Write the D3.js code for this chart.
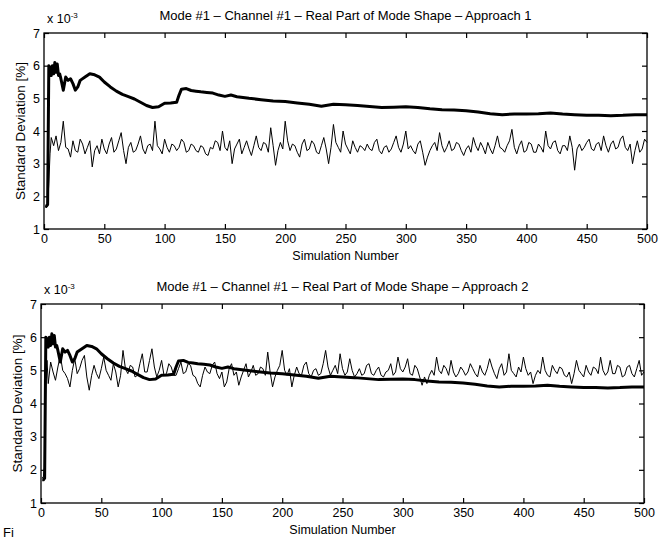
<!DOCTYPE html>
<html>
<head>
<meta charset="utf-8">
<script src="https://cdn.jsdelivr.net/npm/d3@7"></script>
<style>
  body { margin: 0; background: #fff; }
  svg { display: block; }
  .tick text { font-family: "Liberation Sans", Arial, sans-serif; font-size: 12.5px; fill: #000; }
  .tick line { stroke: #000; stroke-width: 1.2; }
  .domain { stroke: none; }
  .lbl { font-family: "Liberation Sans", Arial, sans-serif; font-size: 12.5px; fill: #000; }
</style>
</head>
<body>
<div id="chart"></div>
<script>
  var svgWidth = 671;
  var svgHeight = 542;

  // tick values
  var xTicks = [0, 50, 100, 150, 200, 250, 300, 350, 400, 450, 500];
  var yTicks = [1, 2, 3, 4, 5, 6, 7];

  // first few simulations (transient), then every 2nd simulation from 8 to 500
  var startSims = [1, 2, 3, 4, 5, 6];
  var noisySims = d3.range(8, 501, 2);

  // Approach 1 - thin noisy line (x 10^-3)
  var approach1Start = [1.70, 1.65, 1.75, 2.40, 3.30, 3.80];
  var approach1Noisy = [
    3.55, 3.85, 3.40, 3.65, 4.30, 3.50, 3.45, 3.20, 3.70, 3.40, 3.35, 3.75, 3.60, 3.30, 3.50, 3.70, 2.90, 3.40, 3.55, 3.30,
    3.75, 3.45, 3.30, 3.60, 3.80, 3.35, 3.45, 3.70, 3.95, 3.40, 3.00, 3.50, 3.65, 3.35, 3.40, 3.60, 3.85, 3.45, 3.30, 3.55,
    3.60, 3.40, 4.30, 3.55, 3.45, 3.30, 3.75, 3.50, 3.35, 3.60, 3.55, 3.40, 3.50, 3.75, 3.65, 3.35, 3.40, 3.60, 3.55, 3.40,
    3.35, 3.55, 3.50, 3.30, 3.25, 3.50, 3.45, 3.70, 3.65, 3.40, 4.00, 3.50, 3.40, 3.70, 3.00, 3.45, 3.60, 3.75, 3.30, 3.50,
    3.70, 3.45, 3.25, 3.55, 3.85, 3.50, 3.40, 3.65, 3.60, 3.35, 4.10, 3.55, 2.95, 3.40, 3.65, 3.45, 4.30, 3.70, 3.40, 3.60,
    3.55, 3.35, 3.20, 3.60, 3.75, 3.40, 3.45, 3.70, 3.60, 3.35, 3.30, 3.55, 3.80, 3.45, 3.00, 3.50, 4.20, 3.65, 3.50, 3.35,
    4.00, 3.60, 3.45, 3.30, 3.70, 3.50, 3.35, 3.55, 3.50, 3.40, 3.60, 3.45, 3.40, 3.65, 3.75, 3.40, 3.30, 3.50, 3.55, 3.35,
    3.45, 3.65, 3.85, 3.50, 3.35, 3.60, 4.00, 3.45, 3.55, 3.40, 3.30, 3.60, 3.70, 3.35, 2.95, 3.20, 3.40, 3.55, 3.65, 3.40,
    3.95, 3.55, 3.35, 3.50, 3.70, 3.40, 3.45, 3.65, 3.60, 3.40, 3.25, 3.45, 3.55, 3.35, 3.80, 3.55, 3.40, 3.65, 3.50, 3.30,
    3.65, 3.45, 3.30, 3.55, 3.85, 3.50, 3.45, 3.35, 3.55, 3.70, 4.05, 3.50, 3.30, 3.55, 3.70, 3.35, 3.40, 3.65, 3.60, 3.35,
    3.35, 3.60, 3.50, 3.35, 4.00, 3.55, 3.45, 3.65, 3.70, 3.40, 3.30, 3.55, 3.55, 3.40, 3.85, 3.50, 2.80, 3.45, 3.60, 3.40,
    3.50, 3.65, 3.75, 3.45, 3.40, 3.60, 3.65, 3.40, 3.85, 3.55, 3.35, 3.60, 3.70, 3.45, 3.50, 3.75, 3.85, 3.50, 3.40, 3.60,
    3.00, 3.40, 3.70, 3.35, 3.45, 3.75, 3.65
  ];

  // Approach 2 - thin noisy line (x 10^-3)
  var approach2Start = [1.75, 1.80, 2.10, 4.80, 5.30, 4.60];
  var approach2Noisy = [
    5.25, 4.95, 4.70, 5.10, 5.45, 5.00, 4.90, 4.75, 4.50, 5.00, 5.35, 4.90, 5.05, 5.30, 5.45, 4.80, 4.40, 4.85, 5.15, 4.90,
    4.75, 5.05, 5.40, 5.00, 4.85, 4.70, 5.20, 4.95, 4.50, 4.85, 5.60, 5.05, 4.90, 5.15, 5.10, 4.80, 4.85, 5.20, 5.50, 4.95,
    4.95, 5.30, 5.65, 5.10, 4.80, 5.00, 5.30, 4.85, 4.90, 5.20, 5.10, 4.85, 4.85, 5.05, 5.25, 4.90, 4.95, 5.20, 5.15, 4.85,
    4.80, 4.60, 4.50, 4.85, 5.10, 4.95, 4.90, 5.15, 5.25, 4.90, 4.75, 4.95, 4.50, 4.65, 5.05, 5.20, 4.85, 4.95, 4.55, 4.80,
    5.00, 5.20, 4.80, 4.95, 5.15, 4.85, 4.90, 5.10, 5.05, 4.85, 5.55, 4.95, 4.50, 4.80, 5.00, 5.15, 5.60, 5.00, 4.85, 5.05,
    4.50, 4.85, 5.10, 4.90, 4.85, 5.15, 5.25, 4.90, 4.80, 5.00, 5.05, 4.85, 4.90, 5.20, 5.60, 5.10, 4.85, 5.00, 5.15, 4.90,
    5.50, 5.05, 4.85, 4.95, 5.35, 5.00, 4.80, 4.90, 5.05, 4.85, 4.90, 5.15, 5.20, 4.90, 4.85, 5.00, 5.10, 4.85, 4.80, 4.95,
    5.00, 5.20, 4.85, 4.95, 5.40, 5.05, 4.95, 5.10, 5.35, 4.90, 4.85, 5.15, 5.05, 4.80, 4.55, 4.80, 4.60, 4.85, 5.00, 4.85,
    5.40, 5.00, 4.90, 5.15, 5.05, 4.85, 5.30, 4.95, 4.80, 4.90, 5.10, 5.00, 4.85, 4.95, 5.20, 5.05, 4.90, 4.80, 5.15, 4.95,
    4.85, 5.05, 5.35, 5.10, 4.90, 4.75, 5.05, 5.20, 4.85, 4.95, 5.50, 5.00, 4.90, 4.80, 5.10, 4.95, 5.40, 5.05, 4.85, 4.95,
    4.60, 4.85, 5.00, 4.90, 5.40, 5.00, 4.85, 4.80, 5.15, 5.00, 4.90, 5.10, 5.05, 4.85, 4.80, 4.95, 4.60, 4.90, 5.30, 5.00,
    4.90, 4.80, 5.15, 4.95, 4.85, 5.10, 5.05, 4.90, 5.40, 5.00, 4.85, 4.95, 5.30, 4.90, 4.90, 5.15, 5.10, 4.80, 4.85, 5.10,
    5.15, 4.90, 4.80, 5.05, 5.30, 4.85, 4.95
  ];

  // thick line (same in both panels)
  var runningSims = [1, 2, 3, 4, 5, 6, 7, 8, 9, 10, 11, 12, 13, 14, 16, 18, 20, 22, 24, 26, 28, 30,
    34, 38, 42, 46, 50, 55, 60, 65, 70, 75, 80, 85, 90, 95, 100, 105, 110, 112, 114, 118, 122, 126,
    130, 135, 140, 145, 150, 155, 160, 170, 180, 190, 200, 210, 220, 230, 240, 250, 260, 270, 280,
    290, 300, 310, 320, 330, 340, 350, 360, 370, 380, 390, 400, 410, 420, 430, 440, 450, 460, 470,
    480, 490, 500];
  var runningStd = [1.70, 1.70, 1.75, 6.00, 5.95, 5.70, 6.00, 5.75, 6.10, 5.80, 6.05, 5.70, 5.75, 5.60,
    5.25, 5.65, 5.55, 5.60, 5.45, 5.25, 5.35, 5.55, 5.65, 5.75, 5.72, 5.65, 5.50, 5.35, 5.22, 5.12,
    5.05, 4.98, 4.88, 4.78, 4.72, 4.74, 4.85, 4.86, 4.88, 5.10, 5.28, 5.30, 5.24, 5.22, 5.20, 5.18,
    5.16, 5.10, 5.06, 5.10, 5.05, 5.00, 4.96, 4.92, 4.90, 4.86, 4.82, 4.76, 4.82, 4.80, 4.78, 4.75,
    4.72, 4.73, 4.74, 4.72, 4.68, 4.65, 4.64, 4.62, 4.58, 4.53, 4.50, 4.52, 4.52, 4.53, 4.55, 4.52,
    4.50, 4.48, 4.48, 4.47, 4.48, 4.50, 4.50];

  var titles = [
    "Mode #1 \u2013 Channel #1 \u2013 Real Part of Mode Shape \u2013 Approach 1",
    "Mode #1 \u2013 Channel #1 \u2013 Real Part of Mode Shape \u2013 Approach 2"
  ];

  var panels = [
    { title: titles[0], start: approach1Start, noisy: approach1Noisy, left: 44, right: 647, top: 33, bottom: 229 },
    { title: titles[1], start: approach2Start, noisy: approach2Noisy, left: 41, right: 644, top: 304, bottom: 503 }
  ];

  var svg = d3.select("#chart")
    .append("svg")
    .attr("width", svgWidth)
    .attr("height", svgHeight);

  svg.append("rect").attr("width", svgWidth).attr("height", svgHeight).attr("fill", "#fff");

  var thinPts = function(p) {
    return startSims.map((s, i) => [s, p.start[i]])
      .concat(noisySims.map((s, i) => [s, p.noisy[i]]));
  };
  var thickPts = runningSims.map((s, i) => [s, runningStd[i]]);

  panels.forEach(function(p) {
    var width = p.right - p.left;
    var height = p.bottom - p.top;

    var x = d3.scaleLinear().domain([0, 500]).range([0, width]);
    var y = d3.scaleLinear().domain([1, 7]).range([height, 0]);

    var g = svg.append("g").attr("transform", `translate(${p.left}, ${p.top})`);

    var line = d3.line().x(d => x(d[0])).y(d => y(d[1]));

    // thin noisy line
    g.append("path")
      .datum(thinPts(p))
      .attr("fill", "none")
      .attr("stroke", "#000")
      .attr("stroke-width", 1)
      .attr("d", line);

    // thick line
    g.append("path")
      .datum(thickPts)
      .attr("fill", "none")
      .attr("stroke", "#000")
      .attr("stroke-width", 3)
      .attr("stroke-linejoin", "round")
      .attr("d", line);

    // axes, ticks pointing inwards like matlab
    g.append("g")
      .attr("transform", `translate(0, ${height})`)
      .call(d3.axisBottom(x).tickValues(xTicks).tickSize(-5).tickPadding(5).tickFormat(d3.format("d")));
    g.append("g")
      .call(d3.axisTop(x).tickValues(xTicks).tickSize(-5).tickFormat(""));
    g.append("g")
      .call(d3.axisLeft(y).tickValues(yTicks).tickSize(-5).tickPadding(4).tickFormat(d3.format("d")));
    g.append("g")
      .attr("transform", `translate(${width}, 0)`)
      .call(d3.axisRight(y).tickValues(yTicks).tickSize(-5).tickFormat(""));

    g.append("rect")
      .attr("width", width)
      .attr("height", height)
      .attr("fill", "none")
      .attr("stroke", "#000")
      .attr("stroke-width", 1.3);

    // title
    g.append("text")
      .attr("class", "lbl")
      .attr("x", width / 2)
      .attr("y", -13)
      .attr("text-anchor", "middle")
      .style("font-size", "13px")
      .text(p.title);

    // exponent
    var ex = g.append("text")
      .attr("class", "lbl")
      .attr("x", 3)
      .attr("y", -10);
    ex.append("tspan").text("x 10");
    ex.append("tspan").attr("dy", -5).attr("font-size", "8px").text("-3");

    // axis labels
    g.append("text")
      .attr("class", "lbl")
      .attr("x", width / 2)
      .attr("y", height + 31)
      .attr("text-anchor", "middle")
      .text("Simulation Number");

    g.append("text")
      .attr("class", "lbl")
      .attr("transform", `translate(${-19}, ${height / 2}) rotate(-90)`)
      .attr("text-anchor", "middle")
      .style("font-size", "13.5px")
      .text("Standard Deviation [%]");
  });

  // figure caption start at the bottom edge
  svg.append("text")
    .attr("x", 3)
    .attr("y", 537)
    .attr("font-family", "Liberation Sans, Arial, sans-serif")
    .attr("font-size", "13px")
    .text("Fi");
</script>
</body>
</html>
